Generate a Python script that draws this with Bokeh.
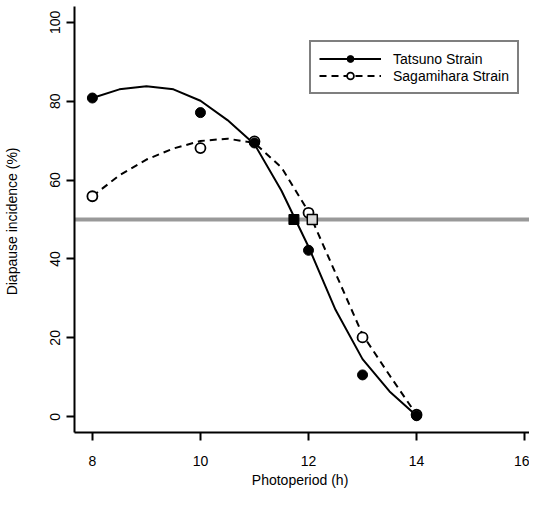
from bokeh.plotting import figure
from bokeh.models import FixedTicker, Span, Legend, LegendItem, Range1d
from bokeh.embed import file_html
from bokeh.resources import INLINE

# ---- data ----
photoperiod = [8, 10, 11, 12, 13, 14]
tatsuno = [80.8, 77.1, 69.4, 42.2, 10.6, 0.25]
sagamihara = [55.9, 68.1, 69.8, 51.7, 20.1, 0.5]

# fitted response curves, every 0.5 h
curve_x = [8.0, 8.5, 9.0, 9.5, 10.0, 10.5, 11.0, 11.5, 12.0, 12.5, 13.0, 13.5, 14.0]
tatsuno_fit = [80.8, 83.0, 83.8, 83.0, 80.1, 75.2, 69.1, 57.3, 43.1, 27.1, 14.6, 6.4, 0.25]
sagamihara_fit = [55.9, 61.2, 65.2, 68.0, 69.9, 70.5, 69.4, 63.2, 52.0, 36.4, 20.8, 10.5, 0.5]

# 50 % crossing points (Tatsuno, Sagamihara)
ed50_x = [11.73, 12.07]
ed50_y = [50, 50]
x_ticks = [8, 10, 12, 14, 16]
y_ticks = [0, 20, 40, 60, 80, 100]

FONT = "Liberation Sans"

p = figure(width=529, height=490, output_backend="svg", toolbar_location=None,
           x_range=Range1d(7.669, 16.09), y_range=Range1d(-4, 104),
           min_border_left=71, min_border_right=0, min_border_top=6,
           min_border_bottom=57)
p.outline_line_color = None
p.xgrid.visible = False
p.ygrid.visible = False

# 50 % reference line
p.add_layout(Span(location=50, dimension="width", line_color="#999999",
                  line_width=4, level="underlay"))

lt = p.line(curve_x, tatsuno_fit, line_color="black", line_width=2,
            line_join="round")
ls = p.line(curve_x, sagamihara_fit, line_color="black", line_width=2,
            line_dash="7 5", line_join="round")

ss = p.scatter(photoperiod, sagamihara, marker="circle", size=10,
               fill_color="white", line_color="black", line_width=1.8)
st = p.scatter(photoperiod, tatsuno, marker="circle", size=10,
               fill_color="black", line_color="black")

p.scatter(ed50_x[:1], ed50_y[:1], marker="square", size=10,
          fill_color="black", line_color="black")
p.scatter(ed50_x[1:], ed50_y[1:], marker="square", size=10,
          fill_color="#d9d9d9", line_color="black", line_width=1.5)

for ax in (p.xaxis[0], p.yaxis[0]):
    ax.axis_line_width = 2
    ax.axis_line_color = "black"
    ax.major_tick_line_width = 2
    ax.major_tick_out = 8
    ax.major_tick_in = 0
    ax.minor_tick_line_color = None
    ax.major_label_text_font = FONT
    ax.major_label_text_font_size = "14px"
    ax.major_label_text_color = "black"
    ax.axis_label_text_font = FONT
    ax.axis_label_text_font_size = "14px"
    ax.axis_label_text_font_style = "normal"
    ax.axis_label_text_color = "black"

p.xaxis.ticker = FixedTicker(ticks=x_ticks)
p.yaxis.ticker = FixedTicker(ticks=y_ticks)
p.xaxis.axis_label = "Photoperiod  (h)"
p.yaxis.axis_label = "Diapause incidence  (%)"
p.xaxis.major_label_standoff = 15
p.xaxis.axis_label_standoff = 3
p.yaxis.major_label_standoff = 6
p.yaxis.axis_label_standoff = 28
p.yaxis.major_label_orientation = "vertical"

legend = Legend(items=[
    LegendItem(label="Tatsuno Strain", renderers=[lt, st]),
    LegendItem(label="Sagamihara Strain", renderers=[ls, ss]),
], location=(235, 338))
legend.border_line_color = "black"
legend.border_line_width = 2
legend.background_fill_color = "white"
legend.background_fill_alpha = 1
legend.label_text_font = FONT
legend.label_text_font_size = "14px"
legend.label_text_color = "black"
legend.glyph_width = 62
legend.glyph_height = 17
legend.label_height = 17
legend.label_standoff = 12
legend.spacing = 0
legend.padding = 8
legend.margin = 0
p.add_layout(legend, "center")

open("out.html", "w").write(file_html(p, INLINE))
